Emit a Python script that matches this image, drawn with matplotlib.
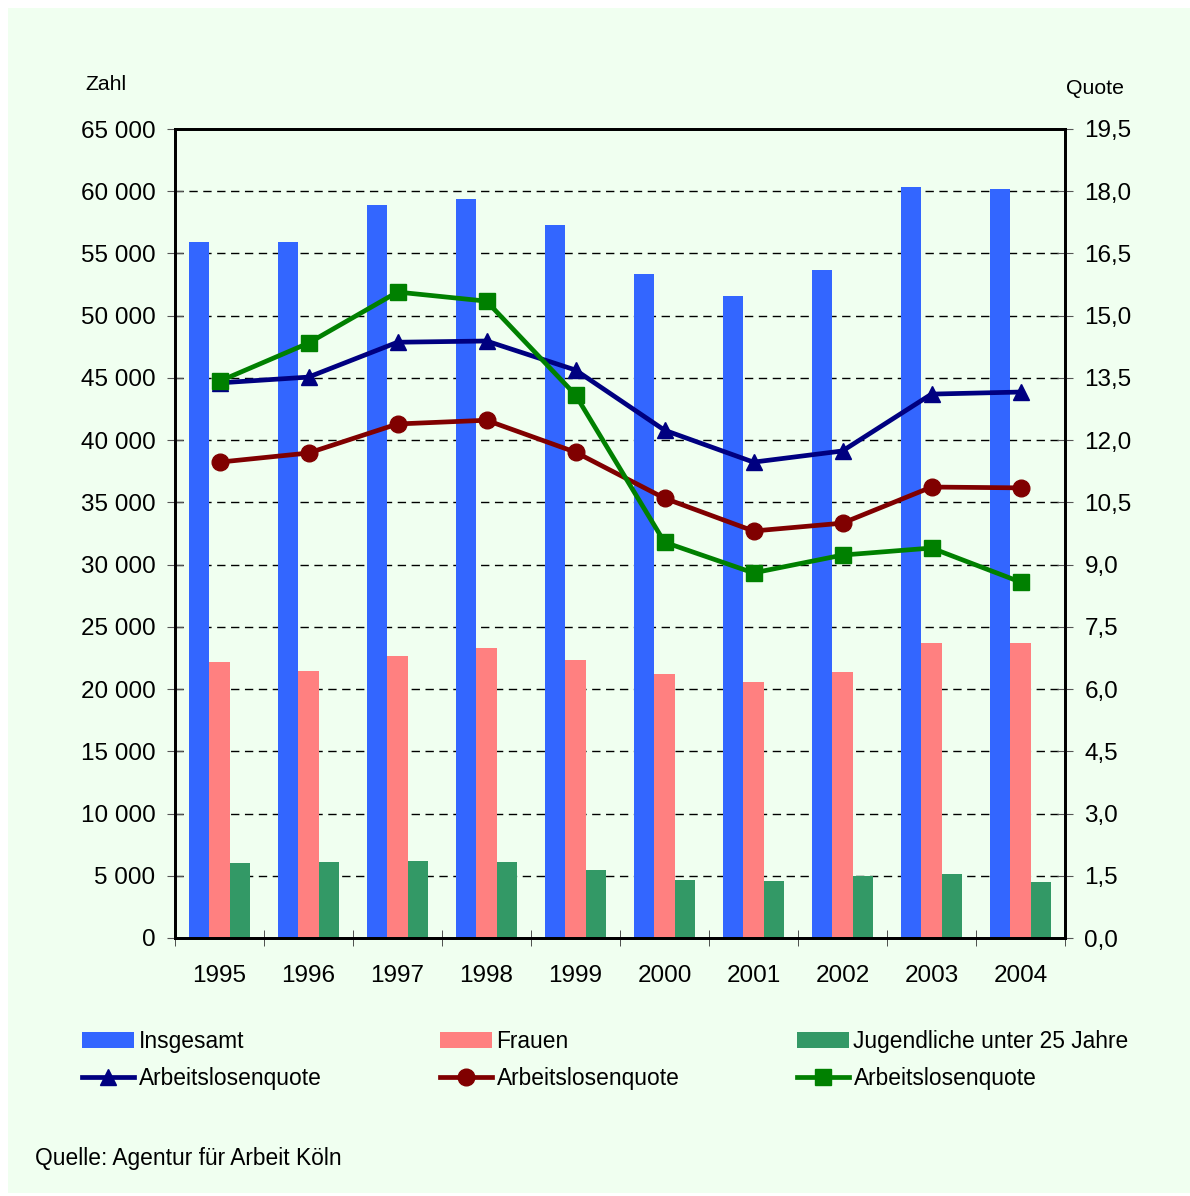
import numpy as np
import matplotlib
matplotlib.use("Agg")
import matplotlib.pyplot as plt
from matplotlib.patches import Rectangle
from matplotlib.ticker import FuncFormatter, MultipleLocator

plt.rcParams['font.family'] = ['Liberation Sans', 'DejaVu Sans']

# Data
years = ['1995', '1996', '1997', '1998', '1999', '2000', '2001', '2002', '2003', '2004']
insgesamt = [55900, 55900, 58900, 59400, 57300, 53350, 51600, 53700, 60300, 60200]
frauen = [22200, 21450, 22650, 23300, 22350, 21200, 20550, 21350, 23700, 23700]
jugendliche = [6030, 6100, 6190, 6100, 5460, 4660, 4580, 4980, 5140, 4500]

quote_insgesamt = [13.38, 13.52, 14.36, 14.39, 13.69, 12.24, 11.47, 11.74, 13.11, 13.16]
quote_frauen = [11.47, 11.69, 12.39, 12.48, 11.71, 10.60, 9.81, 10.00, 10.87, 10.85]
quote_jugend = [13.42, 14.34, 15.57, 15.35, 13.09, 9.54, 8.80, 9.23, 9.40, 8.58]

bg = '#F0FFF0'
W, H = 1190, 1196

fig = plt.figure(figsize=(W / 100, H / 100), dpi=100)
fig.patch.set_facecolor('white')
fig.patches.append(Rectangle((8 / W, 3 / H), 1 - 8 / W, 1 - 11 / H,
                             transform=fig.transFigure, facecolor=bg,
                             edgecolor='none', zorder=-10))

ax = fig.add_axes([175 / W, 258 / H, 890 / W, 809 / H])
ax.set_facecolor(bg)
ax2 = ax.twinx()

x = np.arange(len(years))
w = 0.225
b1 = ax.bar(x - w, insgesamt, w, color='#3366FF', zorder=2, label='Insgesamt')
b2 = ax.bar(x, frauen, w, color='#FF8080', zorder=2, label='Frauen')
b3 = ax.bar(x + w, jugendliche, w, color='#339966', zorder=2,
            label='Jugendliche unter 25 Jahre')

l1, = ax2.plot(x, quote_insgesamt, color='#000080', lw=3.4, marker='^', ms=12,
               label='Arbeitslosenquote')
l2, = ax2.plot(x, quote_frauen, color='#800000', lw=3.4, marker='o', ms=12,
               label='Arbeitslosenquote')
l3, = ax2.plot(x, quote_jugend, color='#008000', lw=3.4, marker='s', ms=11,
               label='Arbeitslosenquote')

ax.set_xlim(-0.5, len(years) - 0.5)
ax.set_ylim(0, 65000)
ax2.set_ylim(0, 19.5)

ax.yaxis.set_major_locator(MultipleLocator(5000))
ax.yaxis.set_major_formatter(FuncFormatter(lambda v, p: f"{v:,.0f}".replace(",", " ")))
ax2.yaxis.set_major_locator(MultipleLocator(1.5))
ax2.yaxis.set_major_formatter(FuncFormatter(lambda v, p: f"{v:.1f}".replace(".", ",")))

ax.grid(axis='y', color='black', linestyle=(0, (6, 4)), lw=1, zorder=1)
ax.set_axisbelow(True)

ax.set_xticks(x)
ax.set_xticklabels(years)
ax.set_xticks(np.arange(-0.5, len(years)), minor=True)
ax.tick_params(axis='x', which='major', length=0, pad=19.5, labelsize=17.5)
ax.tick_params(axis='x', which='minor', direction='inout', length=12, color='#333333')
ax.tick_params(axis='y', direction='inout', length=12, color='#555555', pad=8,
               labelsize=17.5)
ax2.tick_params(axis='y', direction='inout', length=12, color='#555555', pad=8,
                labelsize=17.5)

for a in (ax, ax2):
    for s in a.spines.values():
        s.set_linewidth(2)
        s.set_color('black')

fig.text(85 / W, 1 - 85 / H, 'Zahl', fontsize=15.3, va='center', ha='left')
fig.text(1066 / W, 1 - 88 / H, 'Quote', fontsize=15.3, va='center', ha='left')
fig.text(35 / W, 1 - 1159 / H, 'Quelle: Agentur für Arbeit Köln', fontsize=16.4,
         va='center', ha='left')

# legend: three columns, bar on top and line below
for handles, xpos in [((b1, l1), 82), ((b2, l2), 440), ((b3, l3), 797)]:
    fig.legend(handles, [h.get_label() for h in handles], loc='upper left',
               bbox_to_anchor=(xpos / W, 1 - 1030 / H), frameon=False,
               fontsize=16.4, handlelength=2.3, handletextpad=0.18,
               borderpad=0, borderaxespad=0, labelspacing=0.62, numpoints=1)

fig.savefig('out.png', dpi=100, facecolor=fig.get_facecolor())
